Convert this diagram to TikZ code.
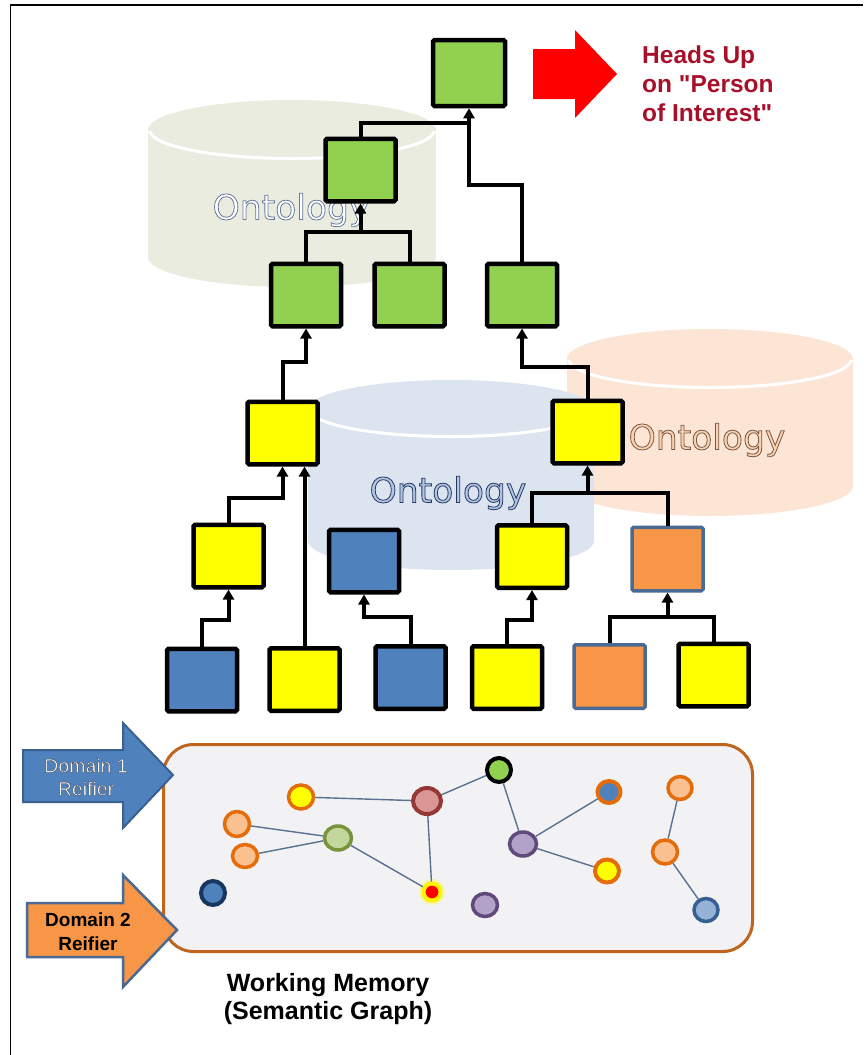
\documentclass[tikz,border=0pt]{standalone}
\usepackage{fontspec}
\setmainfont{Liberation Sans}[Ligatures=TeXOff]
\newfontfamily\ontfont{DejaVu Sans}
\usetikzlibrary{arrows.meta,shapes.geometric}

\definecolor{boxgreen}{HTML}{92D050}
\definecolor{boxyellow}{HTML}{FFFF00}
\definecolor{boxblue}{HTML}{4F81BD}
\definecolor{boxorange}{HTML}{F79646}
\definecolor{oborder}{HTML}{4A6A94}
\definecolor{cylgreen}{HTML}{EBECE0}
\definecolor{cylblue}{HTML}{DCE4F0}
\definecolor{cylorange}{HTML}{FDE5D6}
\definecolor{headred}{HTML}{A8102A}
\definecolor{wmborder}{HTML}{C0651E}
\definecolor{wmfill}{HTML}{F2F2F4}
\definecolor{gedgec}{HTML}{5A7090}
\definecolor{d1fill}{HTML}{4F81BD}
\definecolor{d1border}{HTML}{3A6090}
\definecolor{d1text}{HTML}{FAF8F0}
\definecolor{lorange}{HTML}{FAC090}
\definecolor{dorange}{HTML}{E46C0A}
\definecolor{pinkfill}{HTML}{D99694}
\definecolor{brownbord}{HTML}{953735}
\definecolor{lgreen}{HTML}{C3D69B}
\definecolor{dgreen}{HTML}{77933C}
\definecolor{navy}{HTML}{17375E}
\definecolor{lpurple}{HTML}{B3A2C7}
\definecolor{dpurple}{HTML}{604A7B}
\definecolor{lblue}{HTML}{95B3D7}
\definecolor{mblue}{HTML}{376092}

% #1 fill colour, #2 stroke rgb, #3 stroke width, #4 text
\newcommand\outlined[4]{{\color{#1}\special{pdf:literal direct 2 Tr #3 w #2 RG}#4\special{pdf:literal direct 0 Tr}}}

\begin{document}
\begin{tikzpicture}[x=1pt,y=-1pt,
  tbox/.style={rectangle, draw=black, line width=4.5pt, minimum width=70pt, minimum height=62.5pt, inner sep=0pt, rounded corners=1.5pt},
  gbox/.style={tbox, fill=boxgreen},
  ybox/.style={tbox, fill=boxyellow},
  bluebox/.style={tbox, fill=boxblue},
  obox/.style={tbox, fill=boxorange, draw=oborder, line width=3.5pt, minimum width=71pt, minimum height=63.5pt},
  conn/.style={line width=4pt, black},
  arr/.style={-{Triangle[length=10pt,width=11pt]}},
  ontlabel/.style={font=\ontfont\fontsize{34.5}{40}\selectfont, inner sep=0pt},
  gnode/.style={ellipse, line width=3.5pt, inner sep=0pt},
  gedge/.style={draw=gedgec, line width=1.4pt},
  cylline/.style={draw=white, line width=3pt}
]
\useasboundingbox (0,0) rectangle (863,1055);
\fill[white] (0,0) rectangle (863,1055);
\draw[line width=1.5pt] (10.5,1055) -- (10.5,5) -- (863,5);

% ---------- cylinders ----------
% green
\fill[cylgreen] (148,130) rectangle (436,257);
\fill[cylgreen] (292,130) ellipse[x radius=144, y radius=30];
\fill[cylgreen] (292,257) ellipse[x radius=144, y radius=30];
\begin{scope}
  \clip (140,131) rectangle (445,170);
  \draw[cylline] (292,130) ellipse[x radius=142.5, y radius=28.5];
\end{scope}
% orange
\fill[cylorange] (567,359) rectangle (853,486);
\fill[cylorange] (710,359) ellipse[x radius=143, y radius=30];
\fill[cylorange] (710,486) ellipse[x radius=143, y radius=30];
\begin{scope}
  \clip (560,360) rectangle (860,398);
  \draw[cylline] (710,359) ellipse[x radius=141.5, y radius=28.5];
\end{scope}
% blue
\fill[cylblue] (308,409) rectangle (594,541);
\fill[cylblue] (451,409) ellipse[x radius=143, y radius=29];
\fill[cylblue] (451,541) ellipse[x radius=143, y radius=29];
\begin{scope}
  \clip (300,410) rectangle (600,446);
  \draw[cylline] (451,409) ellipse[x radius=141.5, y radius=27.5];
\end{scope}

\node[ontlabel] (ontA) at (291,210) {\outlined{white}{0.40 0.47 0.62}{0.8}{Ontology}};
\node[ontlabel] (ontC) at (707,440) {\outlined{cylorange!80!orange}{0.45 0.35 0.30}{0.8}{Ontology}};
\node[ontlabel] (ontB) at (448,493) {\outlined{cylblue!70!boxblue}{0.15 0.22 0.40}{0.8}{Ontology}};

% ---------- tree boxes ----------
\node[gbox, minimum width=72pt, minimum height=66pt] (G0) at (469,73) {};
\node[gbox] (G1) at (360.5,170) {};
\node[gbox] (G2a) at (306,295) {};
\node[gbox] (G2b) at (409.5,295) {};
\node[gbox] (G3) at (522,295) {};
\node[ybox] (Y4a) at (282.5,433) {};
\node[ybox] (Y4b) at (587.5,432) {};
\node[ybox] (Y5a) at (228.5,556) {};
\node[bluebox] (B5) at (364,561) {};
\node[ybox] (Y5c) at (532,556.5) {};
\node[obox] (O5) at (667.5,559) {};
\node[bluebox] (B6a) at (202,680) {};
\node[ybox] (Y6b) at (304.5,679.5) {};
\node[bluebox] (B6c) at (410.5,677.5) {};
\node[ybox] (Y6d) at (507,677.5) {};
\node[obox] (O6e) at (609.5,676.5) {};
\node[ybox] (Y6f) at (713.5,675) {};

% junction points
\coordinate (jG0a) at (469,123);
\coordinate (jG0b) at (469,185);
\coordinate (jG1) at (360.5,232);
\coordinate (jG2a) at (306,362);
\coordinate (jG3) at (522,367);
\coordinate (jY4a) at (282.5,498);
\coordinate (jY4b) at (587.5,493);
\coordinate (jB5) at (364,617);
\coordinate (jY5a) at (228.5,620);
\coordinate (jY5c) at (532,620);
\coordinate (jO5) at (667.5,617);

% ---------- connectors ----------
\draw[conn] (G1.north) |- (jG0a);
\draw[conn,arr] (G3.north) |- (jG0b) -- (G0.south);
\draw[conn] (G2a.north) |- (jG1);
\draw[conn] (G2b.north) |- (jG1);
\draw[conn,arr] (jG1) -- (G1.south);
\draw[conn,arr] (Y4a.north) |- (jG2a) -- (G2a.south);
\draw[conn,arr] (Y4b.north) |- (jG3) -- (G3.south);
\draw[conn,arr] (Y5a.north) |- (jY4a) -- (Y4a.south);
\draw[conn,arr] (Y6b.north) -- (Y6b.north |- Y4a.south);
\draw[conn] (Y5c.north) |- (jY4b);
\draw[conn] (O5.north) |- (jY4b);
\draw[conn,arr] (jY4b) -- (Y4b.south);
\draw[conn,arr] (B6c.north) |- (jB5) -- (B5.south);
\draw[conn,arr] (B6a.north) |- (jY5a) -- (Y5a.south);
\draw[conn,arr] (Y6d.north) |- (jY5c) -- (Y5c.south);
\draw[conn] (O6e.north) |- (jO5);
\draw[conn] (Y6f.north) |- (jO5);
\draw[conn,arr] (jO5) -- (O5.south);

% ---------- heads up ----------
\fill[red] (533,49) -- (575,49) -- (575,30) -- (617,74) -- (575,118) -- (575,99) -- (533,99) -- cycle;
\node[anchor=north west, inner sep=0pt, align=left, text=headred,
      font=\bfseries\fontsize{24.5}{29}\selectfont] (heads) at (642,46)
      {Heads Up\\on "Person\\of Interest"};

% ---------- working memory ----------
\node[draw=wmborder, fill=wmfill, line width=3pt, rounded corners=30pt,
      minimum width=589pt, minimum height=207pt, inner sep=0pt] (wm) at (458,848) {};

\filldraw[fill=d1fill, draw=d1border, line width=2pt]
  (23,750) -- (123,750) -- (123,723) -- (173,775) -- (123,828) -- (123,802) -- (23,802) -- cycle;
\filldraw[fill=boxorange, draw=oborder, line width=2.5pt]
  (27,903) -- (123,903) -- (123,875) -- (177,930) -- (123,987) -- (123,957) -- (27,957) -- cycle;
\node[align=center, inner sep=0pt, font=\fontsize{19.5}{23}\selectfont] (d1t) at (86,777)
  {\outlined{d1text}{0.25 0.28 0.36}{0.4}{Domain 1}\\\outlined{d1text}{0.25 0.28 0.36}{0.4}{Reifier}};
\node[align=center, inner sep=0pt, font=\bfseries\fontsize{19}{24}\selectfont] (d2t) at (88,932)
  {Domain 2\\Reifier};

% graph nodes
\node[gnode, fill=boxyellow, draw=dorange, minimum width=25pt, minimum height=24pt] (c1) at (301,797) {};
\node[gnode, fill=pinkfill, draw=brownbord, line width=4pt, minimum width=28pt, minimum height=26pt] (c2) at (427,801) {};
\node[gnode, fill=boxgreen, draw=black, line width=4pt, minimum width=24pt, minimum height=24pt] (c3) at (499,770) {};
\node[gnode, fill=lorange, draw=dorange, minimum width=25pt, minimum height=25pt] (c4) at (237,824) {};
\node[gnode, fill=lorange, draw=dorange, minimum width=25pt, minimum height=23pt] (c5) at (245,856) {};
\node[gnode, fill=lgreen, draw=dgreen, minimum width=27pt, minimum height=24pt] (c6) at (338,838) {};
\node[gnode, fill=red, draw=yellow, line width=4pt,
      preaction={draw=yellow!70, line width=9pt, opacity=0.45},
      minimum width=17pt, minimum height=17pt] (c7) at (432,892) {};
\node[gnode, fill=boxblue, draw=navy, line width=4pt, minimum width=24pt, minimum height=24pt] (c8) at (213,893) {};
\node[gnode, fill=lpurple, draw=dpurple, minimum width=27pt, minimum height=24pt] (c9) at (523,844) {};
\node[gnode, fill=lpurple, draw=dpurple, minimum width=25pt, minimum height=23pt] (c10) at (485,905) {};
\node[gnode, fill=boxblue, draw=dorange, line width=4pt, minimum width=23pt, minimum height=22pt] (c11) at (609,792) {};
\node[gnode, fill=lorange, draw=dorange, minimum width=24pt, minimum height=23pt] (c12) at (680,788) {};
\node[gnode, fill=boxyellow, draw=dorange, line width=4pt, minimum width=24pt, minimum height=23pt] (c13) at (607,871) {};
\node[gnode, fill=lorange, draw=dorange, minimum width=25pt, minimum height=24pt] (c14) at (665,852) {};
\node[gnode, fill=lblue, draw=mblue, minimum width=24pt, minimum height=23pt] (c15) at (706,910) {};

\draw[gedge] (c1) -- (c2);
\draw[gedge] (c2) -- (c3);
\draw[gedge] (c2) -- (c7);
\draw[gedge] (c4) -- (c6);
\draw[gedge] (c5) -- (c6);
\draw[gedge] (c6) -- (c7);
\draw[gedge] (c3) -- (c9);
\draw[gedge] (c9) -- (c11);
\draw[gedge] (c9) -- (c13);
\draw[gedge] (c12) -- (c14);
\draw[gedge] (c14) -- (c15);

\node[align=center, inner sep=0pt, font=\bfseries\fontsize{25}{28}\selectfont] (wmlabel) at (328,999)
  {Working Memory\\(Semantic Graph)};
\end{tikzpicture}
\end{document}
